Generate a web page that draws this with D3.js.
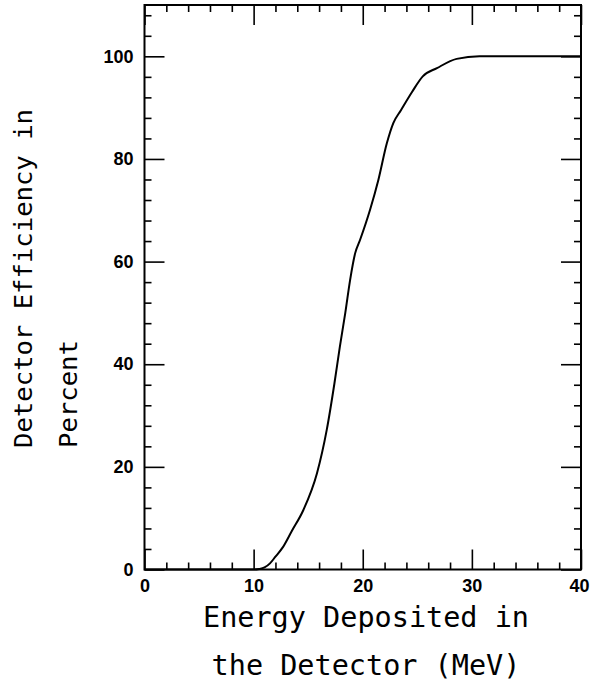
<!DOCTYPE html>
<html>
<head>
<meta charset="utf-8">
<script src="https://cdn.jsdelivr.net/npm/d3@7"></script>
<style>
  html, body { margin: 0; padding: 0; background: #fff; }
  svg { display: block; }
</style>
</head>
<body>
<svg id="chart" width="590" height="682"></svg>
<script>
// Detector efficiency (%) versus energy deposited (MeV)
const energy =     [0, 10, 10.5, 11, 11.5, 12, 12.7, 13.5, 14.56, 15.8, 16.7, 17.4, 17.9, 18.4, 18.84, 19.3, 19.75, 20.67, 21.43, 22.2, 22.8, 23.5, 24.5, 25.5, 26.8, 28.6, 30.7, 40];
const efficiency = [0, 0,  0.1,  0.4, 1.2,  2.5, 4.4,  7.5,  11.6,  18.7, 27.2, 36.2, 43.4, 50,   56.4,  61.6, 64.2,  70.1,  75.9,  83,   87,   89.5, 93,   96.1, 97.7, 99.5, 100,  100];

const xMajorTicks = [0, 10, 20, 30, 40];
const xMinorTicks = [2, 4, 6, 8, 12, 14, 16, 18, 22, 24, 26, 28, 32, 34, 36, 38];
const yMajorTicks = [0, 20, 40, 60, 80, 100];
const yMinorTicks = [4, 8, 12, 16, 24, 28, 32, 36, 44, 48, 52, 56, 64, 68, 72, 76, 84, 88, 92, 96, 104, 108];

const xTitleLines = ["Energy Deposited in", "the Detector (MeV)"];
const yTitleLines = ["Detector Efficiency in", "Percent"];

const W = 590, H = 682;
const plot = { left: 144.5, right: 581, top: 5, bottom: 569.5 };

const svg = d3.select("#chart");

const x = d3.scaleLinear().domain([0, 40]).range([plot.left, plot.right]);
const y = d3.scaleLinear().domain([0, 110]).range([plot.bottom, plot.top]);

const majorLen = 20, minorLen = 7;

function styleAxis(g) {
  g.select(".domain").remove();
  g.selectAll(".tick line").attr("stroke", "#000").attr("stroke-width", 1.6);
}

const labelStyle = g => g.selectAll("text")
  .attr("fill", "#000")
  .style("font-family", "'Liberation Sans', Arial, sans-serif")
  .style("font-weight", "bold")
  .style("font-size", "18px");

// Bottom axis: labelled major ticks pointing inward, plus minor ticks
svg.append("g")
  .attr("transform", `translate(0,${plot.bottom})`)
  .call(d3.axisBottom(x).tickValues(xMajorTicks).tickSize(-majorLen).tickPadding(10).tickFormat(d3.format("d")))
  .call(styleAxis)
  .call(labelStyle)
  // the last label sits flush against the right edge of the page
  .call(g => g.selectAll(".tick text").filter(d => d === 40)
    .attr("text-anchor", "end").attr("x", 8));

svg.append("g")
  .attr("transform", `translate(0,${plot.bottom})`)
  .call(d3.axisBottom(x).tickValues(xMinorTicks).tickSize(-minorLen).tickFormat(""))
  .call(styleAxis);

// Top axis mirrors the bottom one without labels
svg.append("g")
  .attr("transform", `translate(0,${plot.top})`)
  .call(d3.axisTop(x).tickValues(xMajorTicks).tickSize(-majorLen).tickFormat(""))
  .call(styleAxis);
svg.append("g")
  .attr("transform", `translate(0,${plot.top})`)
  .call(d3.axisTop(x).tickValues(xMinorTicks).tickSize(-minorLen).tickFormat(""))
  .call(styleAxis);

// Left axis with labels
svg.append("g")
  .attr("transform", `translate(${plot.left},0)`)
  .call(d3.axisLeft(y).tickValues(yMajorTicks).tickSize(-majorLen).tickPadding(11).tickFormat(d3.format("d")))
  .call(styleAxis)
  .call(labelStyle);
svg.append("g")
  .attr("transform", `translate(${plot.left},0)`)
  .call(d3.axisLeft(y).tickValues(yMinorTicks).tickSize(-minorLen).tickFormat(""))
  .call(styleAxis);

// Right axis mirrors the left one without labels
svg.append("g")
  .attr("transform", `translate(${plot.right},0)`)
  .call(d3.axisRight(y).tickValues(yMajorTicks).tickSize(-majorLen).tickFormat(""))
  .call(styleAxis);
svg.append("g")
  .attr("transform", `translate(${plot.right},0)`)
  .call(d3.axisRight(y).tickValues(yMinorTicks).tickSize(-minorLen).tickFormat(""))
  .call(styleAxis);

// Frame
svg.append("rect")
  .attr("x", plot.left).attr("y", plot.top)
  .attr("width", plot.right - plot.left)
  .attr("height", plot.bottom - plot.top)
  .attr("fill", "none")
  .attr("stroke", "#000")
  .attr("stroke-width", 2);

// Efficiency curve
const points = energy.map((e, i) => [e, efficiency[i]]);
svg.append("path")
  .datum(points)
  .attr("fill", "none")
  .attr("stroke", "#000")
  .attr("stroke-width", 2)
  .attr("stroke-linejoin", "round")
  .attr("d", d3.line().x(d => x(d[0])).y(d => y(d[1])).curve(d3.curveMonotoneX));

// Axis titles
const titleFont = "'DejaVu Sans Mono', 'Liberation Mono', monospace";

svg.append("g")
  .selectAll("text")
  .data(xTitleLines)
  .join("text")
  .attr("x", 366)
  .attr("y", (d, i) => 627 + i * 48)
  .attr("text-anchor", "middle")
  .attr("fill", "#000")
  .style("font-family", titleFont)
  .style("font-size", "28.5px")
  .text(d => d);

svg.append("g")
  .selectAll("text")
  .data(yTitleLines)
  .join("text")
  .attr("transform", (d, i) => `translate(${32 + i * 45},448) rotate(-90)`)
  .attr("text-anchor", "start")
  .attr("fill", "#000")
  .style("font-family", titleFont)
  .style("font-size", "25.6px")
  .text(d => d);
</script>
</body>
</html>
